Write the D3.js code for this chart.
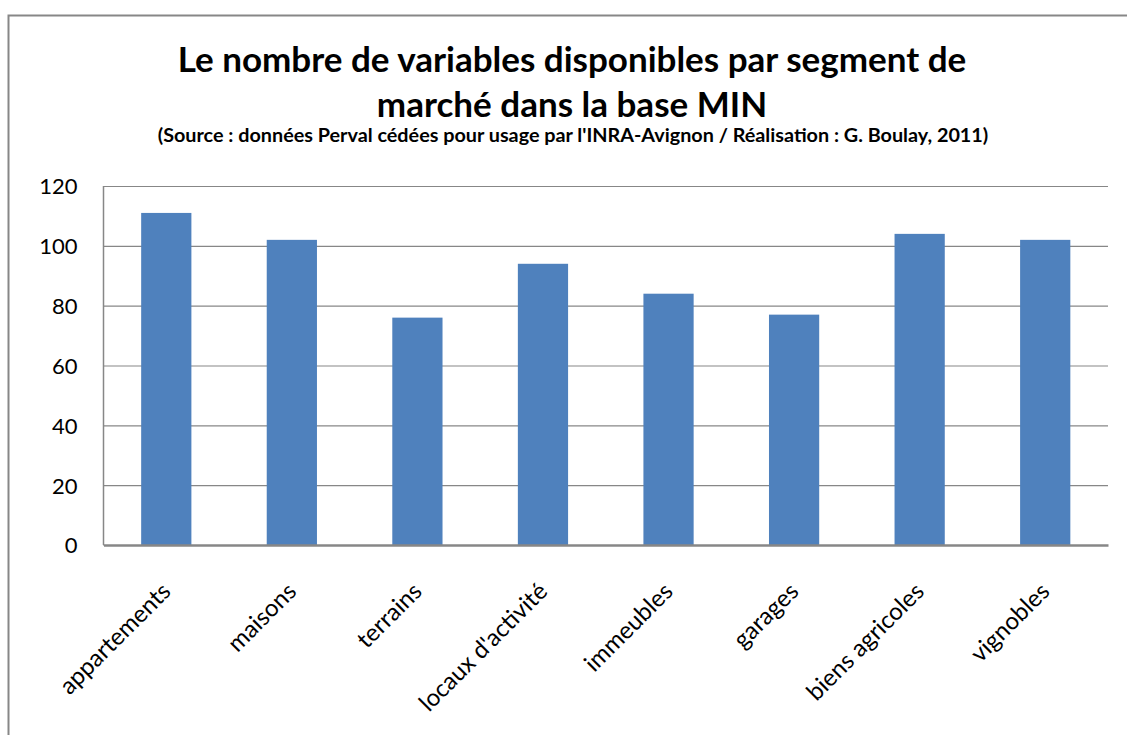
<!DOCTYPE html>
<html>
<head>
<meta charset="utf-8">
<script src="https://cdn.jsdelivr.net/npm/d3@7"></script>
<style>
  body { margin: 0; background: #fff; }
  svg { display: block; }
  text { font-family: Lato, "Noto Sans", sans-serif; fill: #000; }
</style>
</head>
<body>
<div id="chart"></div>
<script>
// Data
var categories = ['appartements', 'maisons', 'terrains', "locaux d'activité",
                  'immeubles', 'garages', 'biens agricoles', 'vignobles']
var values = [111, 102, 76, 94, 84, 77, 104, 102]
var yTicks = [0, 20, 40, 60, 80, 100, 120]

var titleLines = ['Le nombre de variables disponibles par segment de',
                  'marché dans la base MIN']
var subtitle = "(Source : données Perval cédées pour usage par l'INRA-Avignon / Réalisation : G. Boulay, 2011)"

var width = 1127
var height = 735
var margin = {top: 186, right: 19, bottom: 190, left: 103.5}
var barColor = '#4f81bd'
var gridColor = '#878787'

var svg = d3.select('#chart').append('svg')
    .attr('width', width)
    .attr('height', height)

// outer frame of the chart object (runs off the right and bottom edges)
svg.append('rect')
    .attr('x', 8.5).attr('y', 15.5)
    .attr('width', width + 20).attr('height', height + 20)
    .attr('fill', 'none')
    .attr('stroke', gridColor)
    .attr('stroke-width', 2)

// title + subtitle
svg.selectAll('.title').data(titleLines).enter()
    .append('text')
    .attr('class', 'title')
    .attr('x', 572)
    .attr('y', function(d, i) { return 72 + i * 45 })
    .attr('text-anchor', 'middle')
    .style('font-size', '35px')
    .style('font-weight', 'bold')
    .text(function(d) { return d })

svg.append('text')
    .attr('x', 573)
    .attr('y', 142)
    .attr('text-anchor', 'middle')
    .style('font-size', '19.8px')
    .style('font-weight', 'bold')
    .text(subtitle)

var innerW = width - margin.left - margin.right
var innerH = height - margin.top - margin.bottom

var g = svg.append('g')
    .attr('transform', 'translate(' + margin.left + ',' + margin.top + ')')

var x = d3.scaleBand()
    .domain(categories)
    .range([0, innerW])
    .paddingInner(0.6)
    .paddingOuter(0.3)

var y = d3.scaleLinear()
    .domain([0, 120])
    .range([innerH, 0])

// gridlines
var yAxis = d3.axisLeft(y)
    .tickValues(yTicks)
    .tickSize(-innerW)
    .tickPadding(26)
    .tickFormat(d3.format('d'))

var ya = g.append('g').call(yAxis)
ya.select('.domain').remove()
ya.selectAll('.tick line')
    .attr('stroke', gridColor)
    .attr('stroke-width', 1.2)
ya.selectAll('.tick text')
    .attr('dy', '0.36em')
    .style('font-size', '22px')
    .style('font-family', 'Lato, "Noto Sans", sans-serif')
    .style('fill', '#000')

// bars
g.selectAll('.bar').data(values).enter()
    .append('rect')
    .attr('class', 'bar')
    .attr('x', function(d, i) { return x(categories[i]) })
    .attr('width', x.bandwidth())
    .attr('y', function(d) { return y(d) })
    .attr('height', function(d) { return innerH - y(d) })
    .attr('fill', barColor)

// left axis line
g.append('line')
    .attr('x1', 0).attr('x2', 0)
    .attr('y1', 0).attr('y2', innerH)
    .attr('stroke', gridColor)
    .attr('stroke-width', 1.5)

// category axis
var xAxis = d3.axisBottom(x).tickSize(0).tickPadding(0)
var xa = g.append('g')
    .attr('transform', 'translate(0,' + innerH + ')')
    .call(xAxis)
xa.select('.domain')
    .attr('stroke', gridColor)
    .attr('stroke-width', 2.5)
xa.selectAll('.tick text')
    .attr('text-anchor', 'end')
    .attr('transform', 'translate(-6,36) rotate(-45)')
    .attr('dy', '0.7em')
    .attr('y', 0)
    .style('font-size', '24px')
    .style('font-family', 'Lato, "Noto Sans", sans-serif')
    .style('fill', '#000')
</script>
</body>
</html>
